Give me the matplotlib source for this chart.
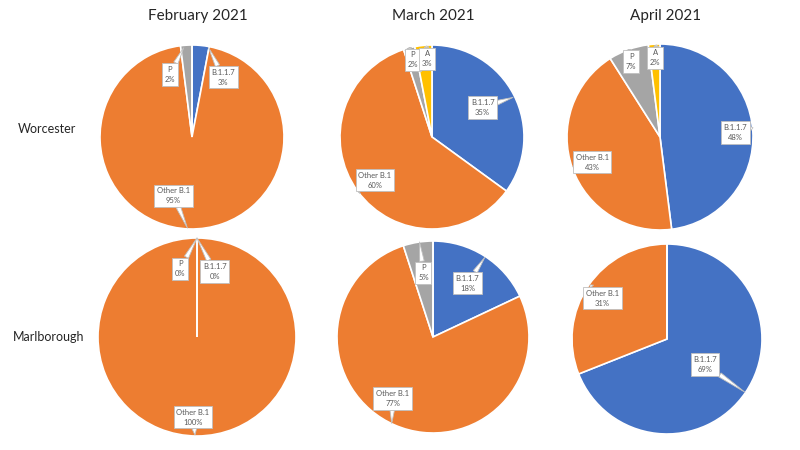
import matplotlib
matplotlib.use("Agg")
from matplotlib import pyplot as plt

# ---------------- data ----------------
months = ["February 2021", "March 2021", "April 2021"]
towns = ["Worcester", "Marlborough"]
lineages = ["B.1.1.7", "Other B.1", "P", "A"]
colors = ["#4472C4", "#ED7D31", "#A5A5A5", "#FFC000"]

worcester_feb = [3, 95, 2, 0]
worcester_mar = [35, 60, 2, 3]
worcester_apr = [48, 43, 7, 2]
marlborough_feb = [0, 100, 0, 0]
marlborough_mar = [18, 77, 5, 0]
marlborough_apr = [69, 31, 0, 0]

# which lineages get a callout in each pie
shown_worcester = [["B.1.1.7", "Other B.1", "P"],
                   ["B.1.1.7", "Other B.1", "P", "A"],
                   ["B.1.1.7", "Other B.1", "P", "A"]]
shown_marlborough = [["B.1.1.7", "Other B.1", "P"],
                     ["B.1.1.7", "Other B.1", "P"],
                     ["B.1.1.7", "Other B.1"]]

# ---------------- layout (pixels, figure 800x450) ----------------
# pie centre x, centre y (from top), radius
pie_geom = [[(192, 137, 92), (432, 137, 92), (660, 137, 93)],
            [(197, 337, 99), (433, 337, 96), (667, 339, 95)]]
# callout box position and pointer target in pie units
callouts = [
    [{"P": ((-0.24, 0.68), (-0.09, 0.97)),
      "B.1.1.7": ((0.34, 0.65), (0.18, 0.97)),
      "Other B.1": ((-0.20, -0.64), (-0.05, -0.99))},
     {"P": ((-0.21, 0.84), (-0.25, 0.97)),
      "A": ((-0.05, 0.85), (-0.06, 0.99)),
      "B.1.1.7": ((0.55, 0.32), (0.88, 0.43)),
      "Other B.1": ((-0.62, -0.47), (-0.80, -0.60))},
     {"P": ((-0.31, 0.81), (-0.34, 0.94)),
      "A": ((-0.05, 0.85), (-0.04, 0.99)),
      "B.1.1.7": ((0.81, 0.05), (1.0, 0.10)),
      "Other B.1": ((-0.73, -0.27), (-0.94, -0.32))}],
    [{"P": ((-0.17, 0.69), (0.0, 1.0)),
      "B.1.1.7": ((0.18, 0.66), (0.0, 1.0)),
      "Other B.1": ((-0.04, -0.81), (-0.02, -0.99))},
     {"P": ((-0.10, 0.67), (-0.14, 0.99)),
      "B.1.1.7": ((0.36, 0.56), (0.54, 0.83)),
      "Other B.1": ((-0.42, -0.64), (-0.43, -0.90))},
     {"B.1.1.7": ((0.40, -0.27), (0.82, -0.56)),
      "Other B.1": ((-0.68, 0.43), (-0.81, 0.57))}],
]


def main():
    plt.rcParams["font.family"] = ["Lato", "DejaVu Sans"]
    W, H = 800, 450
    fig = plt.figure(figsize=(8, 4.5), dpi=100)
    values = [[worcester_feb, worcester_mar, worcester_apr],
              [marlborough_feb, marlborough_mar, marlborough_apr]]
    shown = [shown_worcester, shown_marlborough]

    for row in range(2):
        for col in range(3):
            cx, cy, r = pie_geom[row][col]
            ax = fig.add_axes([(cx - r) / W, (H - cy - r) / H,
                               2 * r / W, 2 * r / H])
            vals = values[row][col]
            ax.pie(vals, colors=colors, startangle=90, counterclock=False,
                   radius=1.0, normalize=True,
                   wedgeprops={"edgecolor": "white", "linewidth": 1.2})
            ax.set_xlim(-1, 1)
            ax.set_ylim(-1, 1)
            ax.set_aspect("equal")
            ax.axis("off")
            for name in shown[row][col]:
                i = lineages.index(name)
                (tx, ty), (px, py) = callouts[row][col][name]
                ax.annotate("%s\n%d%%" % (name, vals[i]),
                            xy=(px, py), xytext=(tx, ty),
                            ha="center", va="center", fontsize=5.5,
                            color="#595959", linespacing=1.5,
                            annotation_clip=False,
                            bbox={"boxstyle": "square,pad=0.35",
                                  "fc": "white", "ec": "#bfbfbf",
                                  "lw": 0.6},
                            arrowprops={"arrowstyle":
                                        "wedge,tail_width=0.6",
                                        "fc": "white", "ec": "#bfbfbf",
                                        "lw": 0.6,
                                        "shrinkA": 0, "shrinkB": 0})

    title_x = [198, 433, 666]
    for m, x in zip(months, title_x):
        fig.text(x / W, 1 - 16 / H, m, ha="center", va="center",
                 fontsize=11, color="#262626")
    fig.text(18 / W, 1 - 129 / H, towns[0], ha="left", va="center",
             fontsize=9, color="#262626")
    fig.text(13 / W, 1 - 337 / H, towns[1], ha="left", va="center",
             fontsize=9, color="#262626")

    fig.savefig("out.png", dpi=100)
    plt.close(fig)


if __name__ == '__main__':
    main()
